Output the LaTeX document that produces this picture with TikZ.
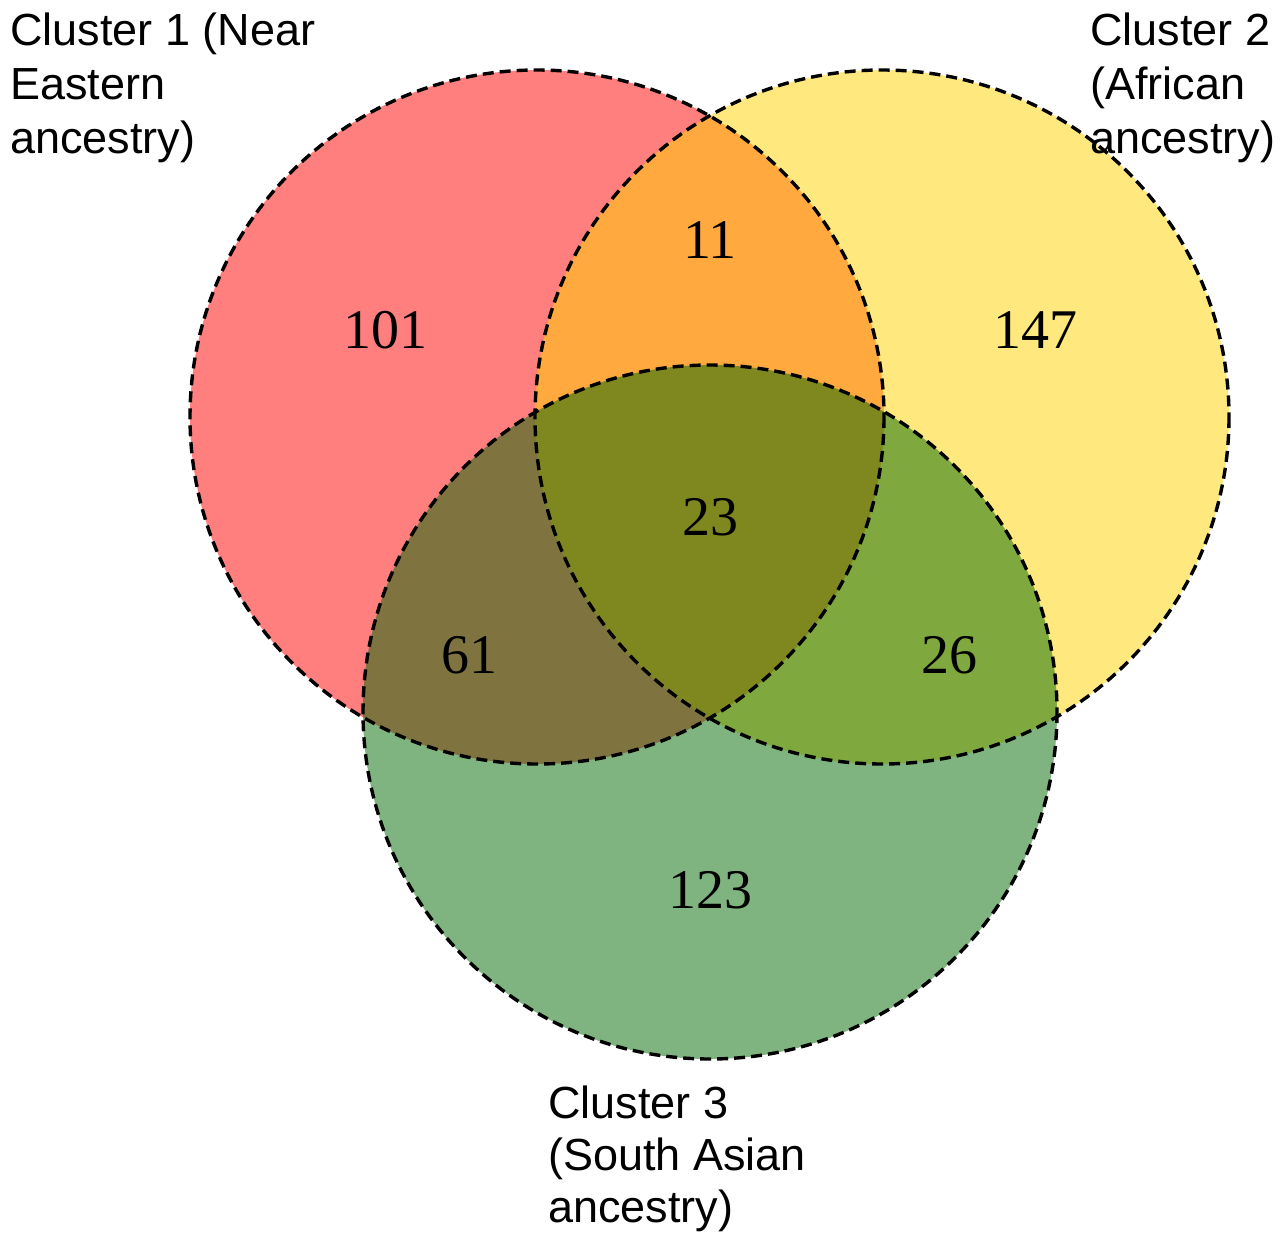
\documentclass[tikz,border=0pt]{standalone}
\usepackage{fontspec}
\setmainfont{Liberation Serif}
\newfontfamily\labelfont{Liberation Sans}
\definecolor{cred}{RGB}{255,0,0}
\definecolor{cyellow}{RGB}{255,212,0}
\definecolor{cgreen}{RGB}{0,104,0}
\begin{document}
\begin{tikzpicture}[x=1pt,y=-1pt,
  setfill/.style={fill opacity=0.5, draw=none},
  outline/.style={draw=black, line width=3.4pt, dash pattern=on 11pt off 6pt},
  num/.style={inner sep=0pt, font=\fontsize{56}{60}\selectfont},
  lbl/.style={inner sep=0pt, anchor=base west, align=left, font=\labelfont\fontsize{45}{54}\selectfont}]
\useasboundingbox (0,0) rectangle (1281,1234);
\fill[white] (0,0) rectangle (1281,1234);
\coordinate (c1) at (537,417);
\coordinate (c2) at (882,417);
\coordinate (c3) at (710,712);
\fill[setfill, cred] (c1) circle[radius=347];
\fill[setfill, cyellow] (c2) circle[radius=347];
\fill[setfill, cgreen] (c3) circle[radius=347];
\draw[outline] (c1) circle[radius=347];
\draw[outline] (c2) circle[radius=347];
\draw[outline] (c3) circle[radius=347];
\node[num] (n101) at (385,330) {101};
\node[num] (n11) at (710,240) {11};
\node[num] (n147) at (1035,330) {147};
\node[num] (n23) at (710,517) {23};
\node[num] (n61) at (469,655) {61};
\node[num] (n26) at (949,655) {26};
\node[num] (n123) at (710,890) {123};
\node[lbl] (l1) at (10,153) {Cluster 1 (Near\\Eastern\\ancestry)};
\node[lbl] (l2) at (1090,153) {Cluster 2\\(African\\ancestry)};
\node[lbl, font=\labelfont\fontsize{45}{52}\selectfont] (l3) at (548,1222) {Cluster 3\\(South Asian\\ancestry)};
\end{tikzpicture}
\end{document}
